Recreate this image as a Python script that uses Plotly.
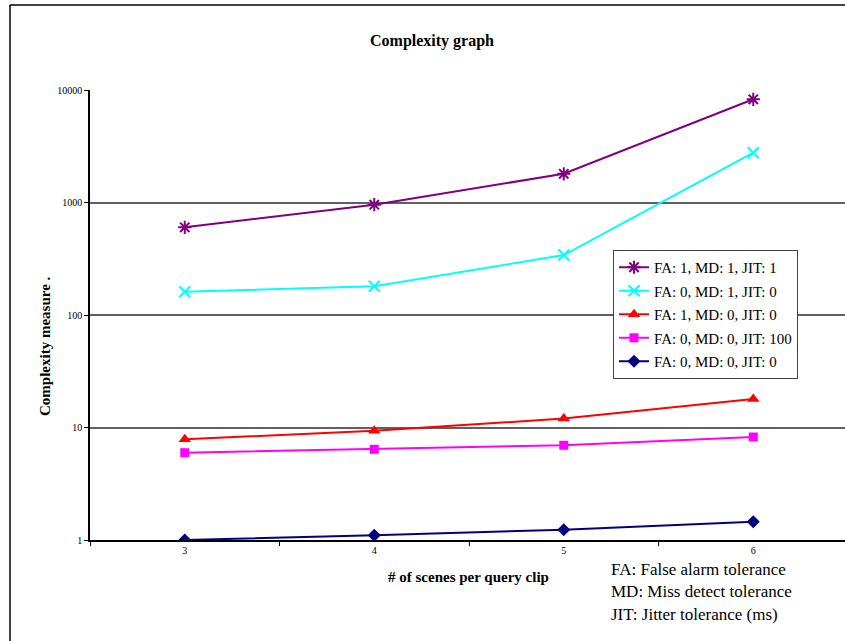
import plotly.graph_objects as go

# Number of scenes per query clip
scenes = ["3", "4", "5", "6"]

# Complexity measure for each tolerance setting
fa1_md1_jit1 = [602, 956, 1800, 8270]
fa0_md1_jit0 = [161, 180, 341, 2770]
fa1_md0_jit0 = [7.85, 9.37, 12.0, 17.9]
fa0_md0_jit100 = [5.97, 6.4, 6.95, 8.23]
fa0_md0_jit0 = [1.0, 1.1, 1.235, 1.455]

series_names = [
    "FA: 1, MD: 1, JIT: 1",
    "FA: 0, MD: 1, JIT: 0",
    "FA: 1, MD: 0, JIT: 0",
    "FA: 0, MD: 0, JIT: 100",
    "FA: 0, MD: 0, JIT: 0",
]

y_ticks = [1, 10, 100, 1000, 10000]
y_tick_text = ["1", "10", "100", "1000", "10000"]

footnotes = [
    "FA: False alarm tolerance",
    "MD: Miss detect tolerance",
    "JIT: Jitter tolerance (ms)",
]

SERIF = "Liberation Serif, Times New Roman, serif"

styles = [
    dict(color="#800080", symbol="asterisk-open", size=11, mline=2),
    dict(color="#00FFFF", symbol="x-thin-open", size=11, mline=2),
    dict(color="#FF0000", symbol="triangle-up", size=11, mline=0),
    dict(color="#FF00FF", symbol="square", size=9, mline=0),
    dict(color="#000080", symbol="diamond", size=10, mline=0),
]

series_values = [fa1_md1_jit1, fa0_md1_jit0, fa1_md0_jit0, fa0_md0_jit100, fa0_md0_jit0]

fig = go.Figure()
for i, (name, vals, st) in enumerate(zip(series_names, series_values, styles)):
    fig.add_trace(go.Scatter(
        x=scenes, y=vals, name=name, mode="lines+markers",
        legendgroup=f"g{i}",
        line=dict(color=st["color"], width=2),
        marker=dict(symbol=st["symbol"], size=st["size"], color=st["color"],
                    line=dict(color=st["color"], width=st["mline"])),
    ))

W, H = 845, 641
L, R, T, B = 90, 0, 90, 101
pw = W - L - R
ph = H - T - B


def px_x(x):
    return (x - L) / pw


def px_y(y):
    return (H - B - y) / ph


fig.update_layout(
    width=W, height=H,
    margin=dict(l=L, r=R, t=T, b=B, pad=0),
    paper_bgcolor="white", plot_bgcolor="white",
    font=dict(family=SERIF, color="black"),
    showlegend=True,
    legend=dict(
        x=px_x(613), y=px_y(250), xanchor="left", yanchor="top",
        bgcolor="white", bordercolor="#404040", borderwidth=1,
        font=dict(family=SERIF, size=15, color="black"),
        traceorder="grouped", tracegroupgap=1,
        itemwidth=30,
    ),
    xaxis=dict(
        type="category", range=[-0.5, 3.484],
        showline=True, linecolor="black", linewidth=1.5,
        ticks="outside", ticklen=4, tickcolor="black", tickwidth=1,
        tickson="boundaries",
        showgrid=False,
        tickfont=dict(family=SERIF, size=10, color="black"),
    ),
    yaxis=dict(
        type="log", range=[0, 4],
        tickvals=y_ticks, ticktext=y_tick_text,
        showline=True, linecolor="black", linewidth=1.5,
        ticks="outside", ticklen=4, tickcolor="black", tickwidth=1,
        showgrid=True, gridcolor="#606060", gridwidth=1.5,
        tickfont=dict(family=SERIF, size=10, color="black"),
    ),
)

annotations = [
    dict(text="<b>Complexity graph</b>", xref="paper", yref="paper",
         x=px_x(432), y=px_y(41), xanchor="center", yanchor="middle",
         showarrow=False, font=dict(family=SERIF, size=16, color="black")),
    dict(text="<b>Complexity measure .</b>", xref="paper", yref="paper",
         x=px_x(45), y=px_y(346), xanchor="center", yanchor="middle",
         textangle=-90, showarrow=False,
         font=dict(family=SERIF, size=15, color="black")),
    dict(text="<b># of scenes per query clip</b>", xref="paper", yref="paper",
         x=px_x(468), y=px_y(577), xanchor="center", yanchor="middle",
         showarrow=False, font=dict(family=SERIF, size=15, color="black")),
]
for k, line in enumerate(footnotes):
    annotations.append(dict(
        text=line, xref="paper", yref="paper",
        x=px_x(609), y=px_y(569 + 22.5 * k), xanchor="left", yanchor="middle",
        showarrow=False, font=dict(family=SERIF, size=17, color="black"),
    ))
fig.update_layout(annotations=annotations)

# Outer frame of the chart (left and top edges)
fig.add_shape(type="line", xref="paper", yref="paper",
              x0=px_x(10), x1=px_x(10), y0=px_y(5), y1=px_y(660),
              line=dict(color="black", width=1.5))
fig.add_shape(type="line", xref="paper", yref="paper",
              x0=px_x(10), x1=px_x(860), y0=px_y(5), y1=px_y(5),
              line=dict(color="black", width=1.5))

fig.write_html("out.html")
